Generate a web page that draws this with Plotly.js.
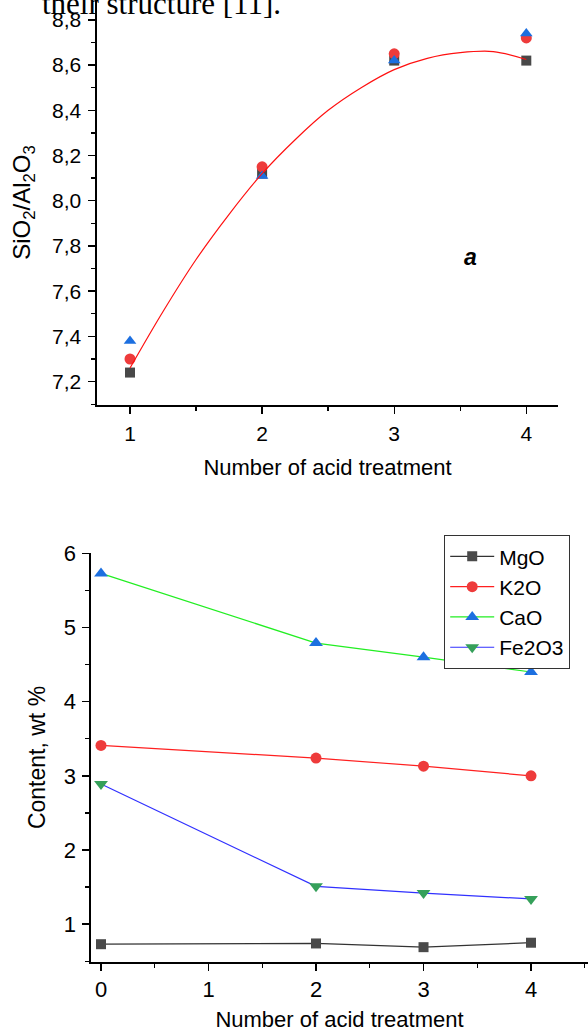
<!DOCTYPE html>
<html>
<head>
<meta charset="utf-8">
<script src="https://cdn.plot.ly/plotly-3.0.1.min.js"></script>
<style>html,body{margin:0;padding:0;background:#fff;}#chart{width:588px;height:1032px;}</style>
</head>
<body>
<div id="chart"></div>
<script>
// ---- Panel a: SiO2/Al2O3 ratio ----
const treatA = [1, 2, 3, 4];
const ratioSquare = [7.24, 8.12, 8.62, 8.62];
const ratioCircle = [7.30, 8.15, 8.65, 8.72];
const ratioTriangle = [7.38, 8.11, 8.62, 8.74];
const fitX = [1, 1.25, 1.5, 1.75, 2, 2.25, 2.5, 2.75, 3, 3.25, 3.5, 3.75, 4];
const fitY = [7.26, 7.51, 7.74, 7.94, 8.12, 8.27, 8.40, 8.50, 8.58, 8.63, 8.655, 8.66, 8.625];

// ---- Panel b: oxide content ----
const treatB = [0, 2, 3, 4];
const seriesNames = ["MgO", "K2O", "CaO", "Fe2O3"];
const mgo = [0.73, 0.74, 0.69, 0.75];
const k2o = [3.41, 3.24, 3.13, 3.00];
const cao = [5.73, 4.79, 4.60, 4.40];
const fe2o3 = [2.89, 1.51, 1.42, 1.34];

const font = "Liberation Sans, Arial, sans-serif";

const traces = [
  {x: treatA, y: ratioSquare, mode: "markers", type: "scatter", xaxis: "x", yaxis: "y", showlegend: false,
   marker: {symbol: "square", size: 10, color: "#484848"}},
  {x: treatA, y: ratioCircle, mode: "markers", type: "scatter", xaxis: "x", yaxis: "y", showlegend: false,
   marker: {symbol: "circle", size: 11, color: "#ee3b3b"}},
  {x: treatA, y: ratioTriangle, mode: "markers", type: "scatter", xaxis: "x", yaxis: "y", showlegend: false,
   marker: {symbol: "triangle-up", size: 11, color: "#1c6fe0"}},
  {x: fitX, y: fitY, mode: "lines", type: "scatter", xaxis: "x", yaxis: "y", showlegend: false,
   line: {color: "#ff1010", width: 1.2, shape: "spline"}},

  {x: treatB, y: mgo, name: seriesNames[0], mode: "lines+markers", type: "scatter", xaxis: "x2", yaxis: "y2",
   line: {color: "#333333", width: 1.2}, marker: {symbol: "square", size: 10, color: "#4a4a4a"}},
  {x: treatB, y: k2o, name: seriesNames[1], mode: "lines+markers", type: "scatter", xaxis: "x2", yaxis: "y2",
   line: {color: "#ff2020", width: 1.2}, marker: {symbol: "circle", size: 11, color: "#ee3b3b"}},
  {x: treatB, y: cao, name: seriesNames[2], mode: "lines+markers", type: "scatter", xaxis: "x2", yaxis: "y2",
   line: {color: "#22ee22", width: 1.2}, marker: {symbol: "triangle-up", size: 12, color: "#1c6fe0"}},
  {x: treatB, y: fe2o3, name: seriesNames[3], mode: "lines+markers", type: "scatter", xaxis: "x2", yaxis: "y2",
   line: {color: "#3030ff", width: 1.2}, marker: {symbol: "triangle-down", size: 12, color: "#35a05a"}}
];

const axCommon = {
  showline: true, linecolor: "#000", linewidth: 1.6, ticks: "outside", tickcolor: "#000", tickwidth: 1.4,
  ticklen: 7, showgrid: false, zeroline: false, mirror: false, automargin: false,
  tickfont: {family: font, size: 21, color: "#000"}
};

const layout = {
  width: 588, height: 1032,
  margin: {l: 0, r: 0, t: 0, b: 0},
  paper_bgcolor: "#fff", plot_bgcolor: "rgba(0,0,0,0)",
  separators: ", ",
  font: {family: font, color: "#000"},
  xaxis: Object.assign({}, axCommon, {
    domain: [97/588, 558/588], anchor: "y", range: [0.75, 4.24], dtick: 1, tick0: 0,
    minor: {dtick: 0.5, ticklen: 4, ticks: "outside", tickcolor: "#000", tickwidth: 1.4},
    ticklabelstandoff: 2,
    title: {text: "Number of acid treatment", font: {family: font, size: 22, color: "#000"}, standoff: 16}
  }),
  yaxis: Object.assign({}, axCommon, {
    domain: [1 - 405/1032, 1], anchor: "x", range: [7.0965, 8.888], dtick: 0.2, tick0: 0, tickformat: ".1f",
    minor: {dtick: 0.1, ticklen: 4, ticks: "outside", tickcolor: "#000", tickwidth: 1.4},
    ticklabelstandoff: 3,
    title: {text: "SiO<sub>2</sub>/Al<sub>2</sub>O<sub>3</sub>", font: {family: font, size: 24, color: "#000"}, standoff: 14}
  }),
  xaxis2: Object.assign({}, axCommon, {
    domain: [91/588, 1], anchor: "y2", range: [-0.093, 4.53], dtick: 1, tick0: 0,
    minor: {dtick: 0.5, ticklen: 4, ticks: "outside", tickcolor: "#000", tickwidth: 1.4},
    ticklabelstandoff: 0, tickfont: {family: font, size: 22, color: "#000"},
    title: {text: "Number of acid treatment", font: {family: font, size: 22, color: "#000"}, standoff: 10}
  }),
  yaxis2: Object.assign({}, axCommon, {
    domain: [1 - 962/1032, 1 - 553/1032], anchor: "x2", range: [0.49, 6.005], dtick: 1, tick0: 0,
    minor: {dtick: 0.5, ticklen: 4, ticks: "outside", tickcolor: "#000", tickwidth: 1.4},
    ticklabelstandoff: 2, tickfont: {family: font, size: 22, color: "#000"},
    title: {text: "Content, wt %", font: {family: font, size: 23, color: "#000"}, standoff: 12}
  }),
  legend: {
    x: 444/588, y: 1 - 535/1032, xanchor: "left", yanchor: "top",
    bordercolor: "#333", borderwidth: 1.2, bgcolor: "#fff",
    font: {family: font, size: 21, color: "#000"}, tracegroupgap: 0, itemwidth: 44
  },
  annotations: [
    {xref: "paper", yref: "paper", x: 40/588, y: 1 - 3/1032, xanchor: "left", yanchor: "middle",
     text: "their structure [11].", showarrow: false,
     font: {family: "Liberation Serif, Times New Roman, serif", size: 31, color: "#000"}},
    {xref: "x", yref: "y", x: 3.58, y: 7.75, text: "<b><i>a</i></b>", showarrow: false,
     font: {family: font, size: 23, color: "#000"}}
  ]
};

Plotly.newPlot("chart", traces, layout, {displayModeBar: false, staticPlot: true});
</script>
</body>
</html>
